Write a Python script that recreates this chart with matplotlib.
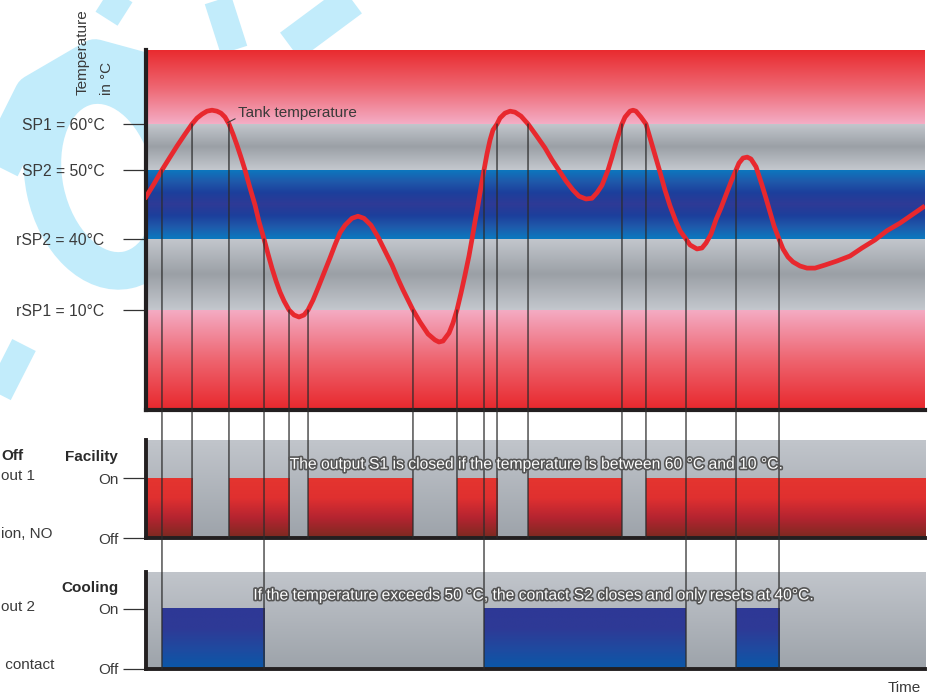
import numpy as np
import matplotlib
matplotlib.use("Agg")
import matplotlib.pyplot as plt
import matplotlib.patheffects as pe
from matplotlib.colors import LinearSegmentedColormap
from matplotlib.patches import ConnectionPatch, Ellipse
from matplotlib.lines import Line2D

plt.rcParams['font.family'] = ['Liberation Sans', 'DejaVu Sans']

# Setpoints of the two switching outputs
setpoint_temps = [10, 40, 50, 60]
setpoint_labels = ['rSP1 = 10°C', 'rSP2 = 40°C', 'SP2 = 50°C', 'SP1 = 60°C']

# Tank temperature (time in arbitrary units 0..100)
time = [0.0, 1.03, 2.05, 3.08, 3.98, 5.01, 5.91, 6.55, 7.19, 7.83,
        8.47, 9.11, 9.63, 10.14, 10.65, 11.17, 11.68, 12.19, 12.71, 13.35,
        14.0, 14.51, 15.15, 15.66, 16.17, 16.69, 17.2, 17.72, 18.36, 19.0,
        19.64, 20.28, 20.8, 21.44, 22.08, 22.85, 23.62, 24.26, 24.9, 25.55,
        26.44, 27.21, 27.98, 28.88, 29.78, 30.68, 31.58, 32.35, 32.99, 33.63,
        34.27, 35.17, 36.2, 37.1, 37.61, 38.13, 38.9, 39.41, 39.92, 40.44,
        40.95, 41.46, 41.85, 42.23, 42.62, 43.0, 43.39, 43.77, 44.16, 44.54,
        45.06, 45.44, 46.08, 46.73, 47.37, 48.14, 49.04, 50.06, 51.22, 52.12,
        53.15, 53.92, 54.81, 55.58, 56.48, 57.25, 57.89, 58.54, 59.31, 59.82,
        60.33, 60.72, 61.1, 61.49, 62.13, 62.52, 62.9, 63.54, 64.18, 64.7,
        65.34, 65.98, 66.62, 67.27, 68.04, 68.55, 69.32, 69.83, 70.73, 71.37,
        71.89, 72.53, 73.17, 73.81, 74.46, 75.1, 75.74, 76.12, 76.64, 77.18,
        77.66, 78.31, 79.08, 79.59, 80.1, 80.62, 81.26, 81.77, 82.41, 83.06,
        83.95, 84.85, 85.88, 87.16, 88.7, 90.37, 91.91, 93.58, 95.12, 96.79,
        98.33, 99.74]
temp = [46.1, 48.0, 50.0, 52.8, 55.2, 57.8, 60.0, 61.2, 62.0, 62.6,
        62.8, 62.6, 62.2, 61.4, 60.0, 57.8, 55.4, 52.8, 50.0, 47.4,
        44.9, 42.5, 40.0, 33.7, 27.7, 22.3, 17.6, 13.8, 10.0, 9.0,
        8.6, 9.0, 10.0, 14.2, 19.3, 25.6, 32.0, 37.5, 40.9, 42.0,
        43.0, 43.3, 43.0, 42.0, 40.3, 34.9, 29.0, 23.1, 18.5, 14.2,
        10.0, 7.6, 5.2, 4.0, 3.6, 3.8, 5.4, 7.4, 10.0, 17.2,
        24.8, 32.8, 40.0, 42.5, 44.9, 47.5, 50.0, 53.5, 56.5, 58.7,
        60.0, 61.2, 62.2, 62.6, 62.4, 61.6, 60.0, 57.6, 54.8, 52.2,
        49.7, 48.4, 47.1, 46.2, 45.8, 45.9, 46.7, 47.8, 50.0, 52.8,
        55.9, 58.0, 60.0, 61.4, 62.6, 62.8, 62.6, 61.4, 60.0, 57.0,
        53.3, 49.7, 47.1, 44.8, 42.5, 41.2, 40.0, 37.5, 35.8, 36.2,
        38.3, 40.7, 42.8, 44.5, 46.4, 48.3, 50.0, 51.5, 52.6, 52.8,
        52.4, 50.7, 47.8, 45.9, 43.9, 41.9, 40.0, 35.8, 32.4, 30.3,
        28.6, 27.7, 27.7, 29.0, 30.7, 32.8, 36.2, 39.6, 41.2, 42.3,
        43.5, 44.6]

# Switching instants and the threshold that triggered them
fac_switch_t = [5.91, 10.65, 18.36, 20.8, 34.27, 39.92, 45.06, 49.04, 61.1, 64.18]
fac_switch_T = [60, 60, 10, 10, 10, 10, 60, 60, 60, 60]
cool_switch_t = [2.05, 15.15, 43.39, 69.32, 75.74, 81.26]
cool_switch_T = [50, 40, 50, 40, 50, 40]

# On periods of the outputs
fac_on = [(0, 5.91), (10.65, 18.36), (20.8, 34.27), (39.92, 45.06), (49.04, 61.1), (64.18, 100)]
cool_on = [(2.05, 15.15), (43.39, 69.32), (75.74, 81.26)]

# Non-linear temperature axis of the sketch
T_nodes = [-10, 10, 40, 50, 60, 75]
P_nodes = [0, 100, 171, 240, 286, 360]


def fwd(v):
    return np.interp(v, T_nodes, P_nodes)


def inv(v):
    return np.interp(v, P_nodes, T_nodes)


def gradient(ax, x0, x1, y0, y1, colors, z=0):
    # colors listed from bottom to top
    cmap = LinearSegmentedColormap.from_list('g', colors)
    grad = np.linspace(0, 1, 256).reshape(-1, 1)
    ax.imshow(grad, cmap=cmap, origin='lower', extent=[x0, x1, y0, y1],
              aspect='auto', interpolation='bilinear', zorder=z)


W, H = 930, 698
fig = plt.figure(figsize=(9.3, 6.98), dpi=100)


def box(l, t, r, b):
    return [l / W, 1 - b / H, (r - l) / W, (b - t) / H]


# light blue watermark in the background
wm = '#c2ecfb'
ax_bg = fig.add_axes([0, 0, 1, 1], zorder=-1)
ax_bg.set_xlim(0, W)
ax_bg.set_ylim(H, 0)
ax_bg.axis('off')
ax_bg.add_patch(Ellipse((108, 178), 128, 188, angle=-12, fill=False, ec=wm, lw=27))
for xs, ys, w in [([-10, 35, 95, 150], [185, 95, 60, 75], 30),
                  ([103, 125], [0, 14], 20),
                  ([218, 234], [0, 50], 20),
                  ([352, 290], [0, 46], 24),
                  ([24, -5], [345, 402], 19)]:
    ax_bg.add_line(Line2D(xs, ys, color=wm, lw=w, solid_capstyle='butt'))

ink = '#231f20'
txt = '#3a3a3a'
fs = 11

# ---- temperature chart ----
ax = fig.add_axes(box(146, 50, 925, 410))
ax.set_yscale('function', functions=(fwd, inv))

gray = ['#c3c7cd', '#9ba0a6', '#c3c7cd']
band_edges = [-10, 10, 40, 50, 60, 75]
band_colors = [['#e8282d', '#ee6570', '#f4acc4'],
               gray,
               ['#0b78bf', '#1f5aab', '#1c3f9c', '#2e3a96', '#1c3f9c', '#1f5aab', '#0b78bf'],
               gray,
               ['#f4acc4', '#ee6570', '#e92a2e']]
for lo, hi, cols in zip(band_edges[:-1], band_edges[1:], band_colors):
    gradient(ax, 0, 100, lo, hi, cols)

ax.plot(time, temp, color='#e8282e', lw=3.4, solid_joinstyle='round', zorder=4)
ax.annotate('Tank temperature', xy=(10.5, 60.3), xytext=(11.8, 62.2),
            fontsize=fs, color=txt, ha='left', va='center',
            arrowprops=dict(arrowstyle='-', color=txt, lw=0.8, relpos=(0, 0.2),
                            shrinkA=0, shrinkB=0), zorder=6)

ax.set_xlim(0, 100)
ax.set_ylim(-10, 75)
ax.set_xticks([])
ax.set_yticks(setpoint_temps, setpoint_labels)
ax.tick_params(axis='y', length=16.5, width=0.9, color='#333333', pad=13.5,
               labelsize=11.3, labelcolor=txt)
for s in ['top', 'right']:
    ax.spines[s].set_visible(False)
for s in ['left', 'bottom']:
    ax.spines[s].set_color(ink)
    ax.spines[s].set_linewidth(3)
ax.annotate('Temperature\nin °C', xy=(-0.0655, 0.875), xycoords='axes fraction',
            rotation=90, ha='center', va='bottom', multialignment='left',
            fontsize=fs, color=txt, linespacing=1.9)

# ---- switching outputs ----
ax_fac = fig.add_axes(box(146, 440, 925, 538))
ax_cool = fig.add_axes(box(146, 572, 925, 669))

panels = [(ax_fac, fac_on, ['#7a2a20', '#b42430', '#e03030', '#e5352f'], 'Facility', 98 / 60),
          (ax_cool, cool_on, ['#0a58a8', '#1f4aa0', '#2e3a96', '#2e3896'], 'Cooling', 97 / 60)]
for pax, on_periods, cols, name, top in panels:
    gradient(pax, 0, 100, 0, top, ['#9da3aa', '#c1c5cb'])
    for t0, t1 in on_periods:
        gradient(pax, t0, t1, 0, 1, cols, z=1)
    pax.set_xlim(0, 100)
    pax.set_ylim(0, top)
    pax.set_xticks([])
    pax.set_yticks([0, 1], ['Off', 'On'])
    pax.tick_params(axis='y', length=16.5, width=0.9, color='#333333', pad=3.5,
                    labelsize=fs, labelcolor=txt)
    for s in ['top', 'right']:
        pax.spines[s].set_visible(False)
    for s in ['left', 'bottom']:
        pax.spines[s].set_color(ink)
        pax.spines[s].set_linewidth(2.8)
    pax.annotate(name, xy=(0, 1.35), xycoords=('axes fraction', 'data'),
                 xytext=(-20, 0), textcoords='offset points', ha='right', va='center',
                 fontsize=fs, fontweight='bold', color='#2a2a2a')

# vertical lines linking threshold crossings to the outputs
for t, T in zip(fac_switch_t, fac_switch_T):
    fig.add_artist(ConnectionPatch((t, T), (t, 0), coordsA=ax.transData,
                                   coordsB=ax_fac.transData, color='#2b2b2b', lw=0.9, zorder=3))
for t, T in zip(cool_switch_t, cool_switch_T):
    fig.add_artist(ConnectionPatch((t, T), (t, 0), coordsA=ax.transData,
                                   coordsB=ax_cool.transData, color='#2b2b2b', lw=0.9, zorder=3))

outline = [pe.withStroke(linewidth=2.4, foreground='#555555')]
fig.text(50.2, 1.23, 'The output S1 is closed if the temperature is between 60 °C and 10 °C.',
         transform=ax_fac.transData, ha='center', va='center', fontsize=11.3,
         color='white', path_effects=outline, zorder=6)
fig.text(49.9, 1.23, 'If the temperature exceeds 50 °C, the contact S2 closes and only resets at 40°C.',
         transform=ax_cool.transData, ha='center', va='center', fontsize=11.3,
         color='white', path_effects=outline, zorder=6)

ax_cool.annotate('Time', xy=(0.995, -0.196), xycoords='axes fraction',
                 ha='right', va='center', fontsize=fs, color=txt)

# cut-off legend text at the left edge
fig.text(0.001, 1 - 456 / H, 'Off', ha='left', va='center', fontsize=fs,
         fontweight='bold', color='#2a2a2a')
for s, y in [('out 1', 476), ('ion, NO', 534), ('out 2', 607), (' contact', 665)]:
    fig.text(0.001, 1 - y / H, s, ha='left', va='center', fontsize=fs, color=txt)

fig.savefig('out.png', dpi=100)
